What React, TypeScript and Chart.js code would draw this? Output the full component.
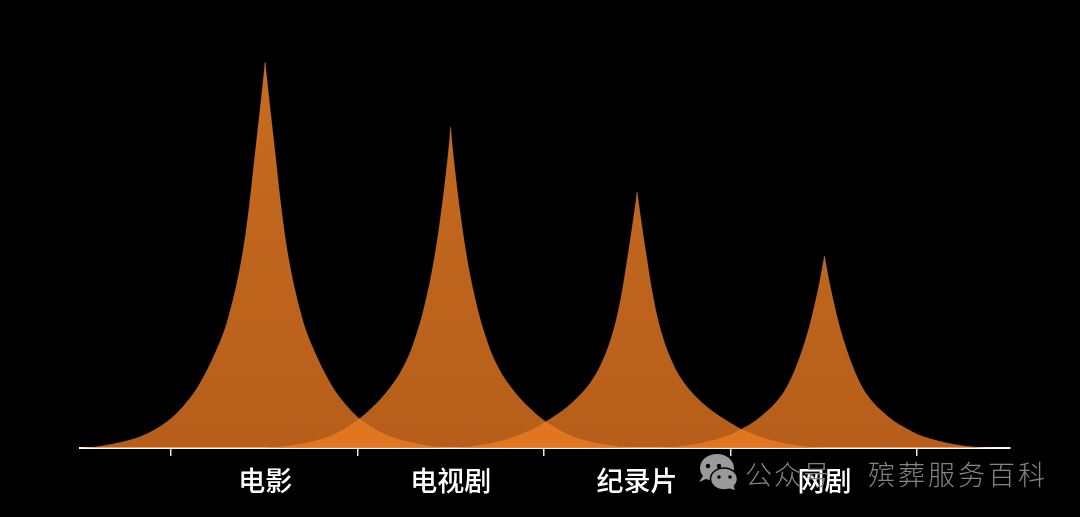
import React, { useEffect, useRef } from "react";
import { Chart, registerables } from "chart.js";

Chart.register(...registerables);

const categories = ["电影", "电视剧", "纪录片", "网剧"];
const peakCentres = [1.505, 2.5, 3.5, 4.505];
const tickPositions = [1, 2, 3, 4, 5];

// distance from the peak, in category widths
const offsets = [0, 0.005, 0.027, 0.054, 0.08, 0.107, 0.134, 0.161, 0.188, 0.214, 0.268, 0.322, 0.375, 0.429, 0.483, 0.536, 0.59, 0.643, 0.697, 0.804, 0.912, 0.997];

const movieHeights = [386, 377, 339, 294, 250, 211, 181, 157, 137, 120, 95, 74, 57, 44, 33, 25, 18.5, 13.5, 9.5, 4.5, 1, 0];
const tvHeights = [321, 310, 271, 231, 198, 170, 147, 127, 111, 97, 76, 61, 49, 39, 30, 23, 17, 12, 8.5, 4, 1, 0];
const documentaryHeights = [256, 249, 220, 187, 157, 132, 113, 98, 86, 76, 61, 50, 41, 33.5, 27, 21, 16, 12, 8.5, 4, 1, 0];
const webSeriesHeights = [192, 187, 165, 142, 122, 105, 90, 77, 66, 57, 44, 34.5, 26.5, 20.5, 15, 11, 8, 5.5, 3.5, 1, 0, 0];

const allHeights = [movieHeights, tvHeights, documentaryHeights, webSeriesHeights];

const FONT = '"Noto Sans CJK SC", "Noto Sans", sans-serif';

function peakPoints(centre: number, heights: number[]) {
  const left = offsets.slice(1).map((o, i) => ({ x: centre - o, y: heights[i + 1] })).reverse();
  const right = offsets.map((o, i) => ({ x: centre + o, y: heights[i] }));
  return [...left, ...right];
}

function areaFill(ctx: any) {
  const { chart } = ctx;
  const area = chart.chartArea;
  if (!area) return "rgba(240,124,34,0.76)";
  const g = chart.ctx.createLinearGradient(0, area.top, 0, area.bottom);
  g.addColorStop(0, "rgba(240,130,38,0.84)");
  g.addColorStop(0.6, "rgba(240,126,36,0.79)");
  g.addColorStop(1, "rgba(240,124,34,0.76)");
  return g;
}

export default function App() {
  const ref = useRef<HTMLCanvasElement | null>(null);

  useEffect(() => {
    const chart = new Chart(ref.current!, {
      type: "line",
      data: {
        datasets: categories.map((label, i) => ({
          label,
          data: peakPoints(peakCentres[i], allHeights[i]),
          parsing: false,
          fill: "origin",
          backgroundColor: areaFill,
          borderColor: "rgba(225,170,120,0.22)",
          borderWidth: 1,
          pointRadius: 0,
          cubicInterpolationMode: "monotone",
        })),
      } as any,
      options: {
        responsive: false,
        animation: false,
        layout: { padding: { left: 80, right: 70, top: 20, bottom: 0 } },
        plugins: { legend: { display: false }, tooltip: { enabled: false } },
        scales: {
          y: { display: false, min: 0, max: 428 },
          x: {
            type: "linear",
            position: "bottom",
            min: 0.512,
            max: 5.5,
            afterBuildTicks: (s: any) => {
              s.ticks = tickPositions.map((value) => ({ value }));
            },
            border: { color: "#ffffff", width: 2 },
            grid: { drawOnChartArea: false, drawTicks: true, tickLength: 8, color: "#e6e6e6", lineWidth: 1.5 },
            ticks: { display: false },
          },
          x2: {
            type: "linear",
            position: "bottom",
            min: 0.512,
            max: 5.5,
            afterBuildTicks: (s: any) => {
              s.ticks = peakCentres.map((value) => ({ value }));
            },
            afterFit: (s: any) => {
              s.height = 61;
            },
            border: { display: false },
            grid: { display: false },
            ticks: {
              autoSkip: false,
              maxRotation: 0,
              padding: 1,
              color: "#ffffff",
              font: { family: FONT, size: 27, weight: "500" },
              callback: (_v: any, i: number) => categories[i],
            },
          },
        },
      } as any,
    });
    return () => chart.destroy();
  }, []);

  const mark: React.CSSProperties = {
    position: "absolute",
    color: "#858585",
    fontFamily: FONT,
    fontWeight: 300,
    whiteSpace: "nowrap",
    lineHeight: "34px",
    top: 457,
  };

  return (
    <div style={{ position: "fixed", left: 0, top: 0, width: 1080, height: 517, background: "#000", overflow: "hidden" }}>
      <canvas ref={ref} width={1080} height={517} style={{ display: "block", position: "absolute", left: 0, top: 0 }} />
      <svg width={1080} height={517} style={{ position: "absolute", left: 0, top: 0 }}>
        <path d="M699 482 L703 476 A17 14 0 1 1 716 482 L706 479 Z" fill="#9a9a9a" />
        <circle cx={708} cy={466} r={2.2} fill="#000" />
        <circle cx={719} cy={466} r={2.2} fill="#000" />
        <ellipse cx={724} cy={479} rx={13.5} ry={11} fill="#9a9a9a" stroke="#000" strokeWidth={1.5} />
        <path d="M728 488 L735 490 L733 484 Z" fill="#9a9a9a" />
        <circle cx={719} cy={477} r={1.8} fill="#000" />
        <circle cx={730} cy={477} r={1.8} fill="#000" />
      </svg>
      <div style={{ ...mark, left: 745, fontSize: 27, letterSpacing: 2 }}>公众号</div>
      <div style={{ ...mark, left: 868, fontSize: 27, letterSpacing: 3 }}>殡葬服务百科</div>
    </div>
  );
}
